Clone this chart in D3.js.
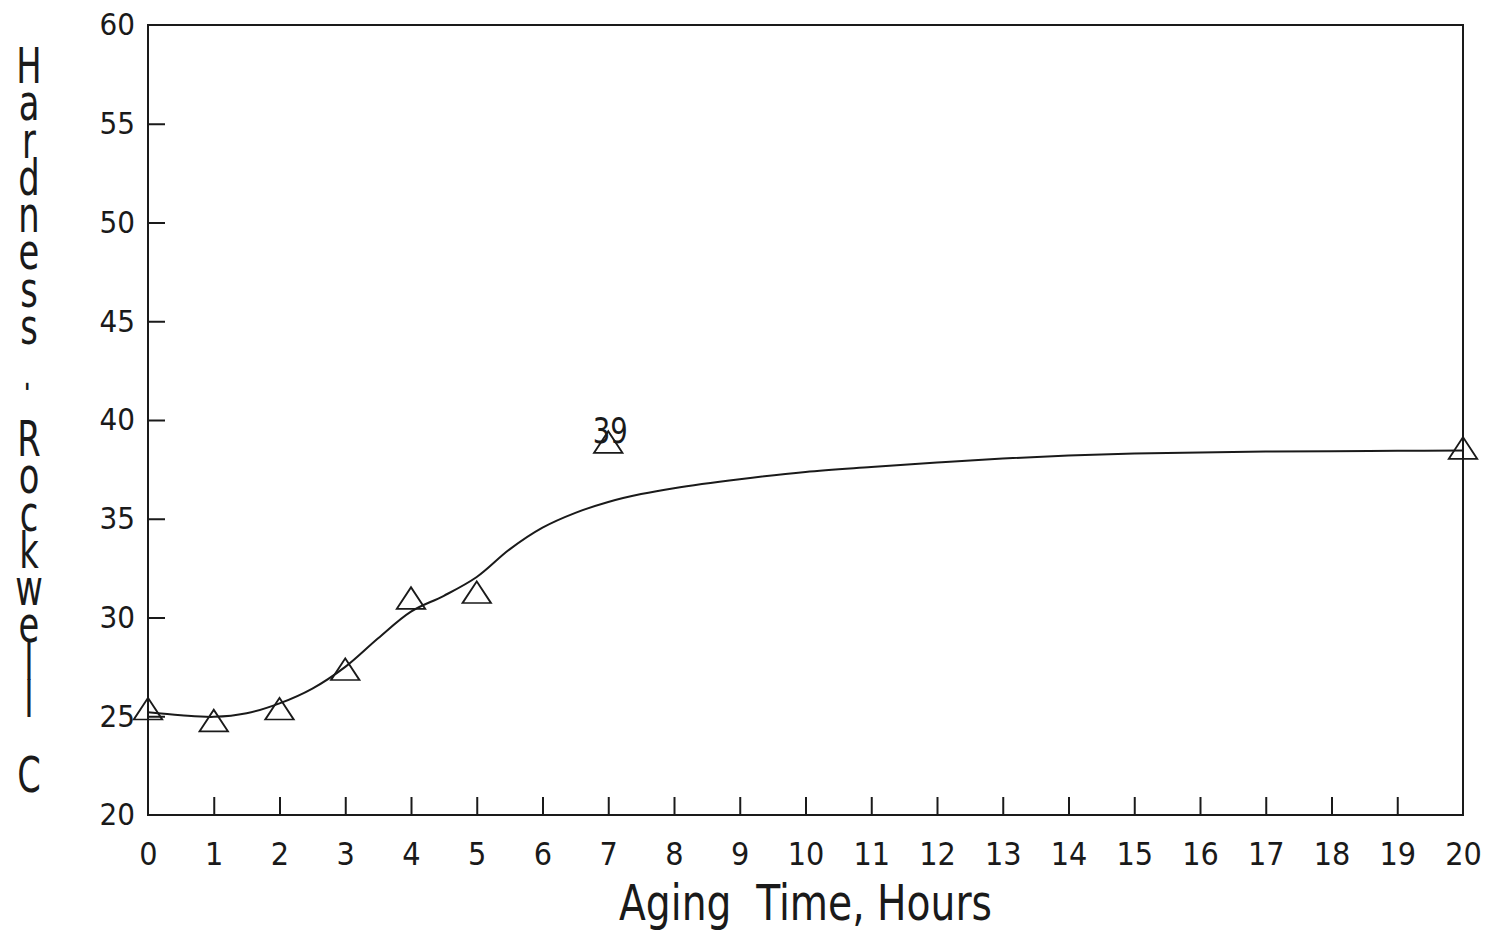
<!DOCTYPE html>
<html>
<head>
<meta charset="utf-8">
<script src="https://cdn.jsdelivr.net/npm/d3@7"></script>
<style>
  html, body { margin: 0; padding: 0; background: #ffffff; }
  svg { display: block; }
  text { font-family: "DejaVu Sans Condensed", "DejaVu Sans", sans-serif; font-stretch: condensed; fill: #1a1a1a; }
</style>
</head>
<body>
<svg id="chart" width="1490" height="938"></svg>
<script>
// ---- data ----
const xTickValues = [0,1,2,3,4,5,6,7,8,9,10,11,12,13,14,15,16,17,18,19,20];
const yTickValues = [20,25,30,35,40,45,50,55,60];
// measured hardness (triangles)
const measuredHours = [0, 1, 2, 3, 4, 5, 7, 20];
const measuredHardness = [25.2, 24.6, 25.2, 27.2, 30.8, 31.1, 38.7, 38.4];
// fitted curve
const curveHours = [0, 0.5, 1, 1.5, 2, 2.5, 3, 3.5, 4, 4.5, 5, 5.5, 6, 6.5, 7, 7.5, 8, 9, 10, 11, 12, 13, 14, 15, 16, 17, 18, 19, 20];
const curveHardness = [25.2, 25.05, 24.97, 25.15, 25.65, 26.4, 27.5, 28.95, 30.3, 31.1, 32.05, 33.45, 34.55, 35.3, 35.85, 36.25, 36.55, 37.0, 37.37, 37.62, 37.85, 38.05, 38.2, 38.3, 38.36, 38.4, 38.42, 38.44, 38.45];
const pointLabelHour = 7;
const pointLabelText = "39";
const xTitle = "Aging  Time, Hours";
const yTitle = "Hardness - Rockwell C";

(function () {
  const svg = d3.select("#chart");
  const mLeft = 148, mRight = 1463, mTop = 25, mBottom = 815;
  const x = d3.scaleLinear().domain([0, 20]).range([mLeft, mRight]);
  const y = d3.scaleLinear().domain([20, 60]).range([mBottom, mTop]);
  const ink = "#1a1a1a";

  // frame
  svg.append("rect")
    .attr("x", mLeft).attr("y", mTop)
    .attr("width", mRight - mLeft).attr("height", mBottom - mTop)
    .attr("fill", "none").attr("stroke", ink).attr("stroke-width", 2);

  // y axis (ticks inward)
  const yAxis = d3.axisLeft(y).tickValues(yTickValues).tickSize(-17).tickPadding(30)
    .tickFormat(d3.format("d"));
  const gy = svg.append("g").attr("transform", `translate(${mLeft},0)`).call(yAxis);
  gy.attr("font-family", null).attr("font-size", null);
  gy.select(".domain").remove();
  gy.selectAll(".tick line").attr("stroke", ink).attr("stroke-width", 2)
    .filter(d => d === 20 || d === 60).remove();
  gy.selectAll(".tick text").attr("font-size", 31).attr("fill", ink).attr("dx", 17);

  // x axis (ticks upward)
  const xAxis = d3.axisBottom(x).tickValues(xTickValues).tickSize(-18).tickPadding(27)
    .tickFormat(d3.format("d"));
  const gx = svg.append("g").attr("transform", `translate(0,${mBottom})`).call(xAxis);
  gx.attr("font-family", null).attr("font-size", null);
  gx.select(".domain").remove();
  gx.selectAll(".tick line").attr("stroke", ink).attr("stroke-width", 2)
    .filter(d => d === 0 || d === 20).remove();
  gx.selectAll(".tick text").attr("font-size", 32).attr("fill", ink);

  // x title
  svg.append("text")
    .attr("x", (mLeft + mRight) / 2).attr("y", 920)
    .attr("text-anchor", "middle")
    .attr("font-size", 50)
    .attr("textLength", 373).attr("lengthAdjust", "spacingAndGlyphs")
    .style("white-space", "pre")
    .text(xTitle);

  // y title: letters stacked vertically in one text element
  const chars = Array.from(yTitle);
  const sx = 0.75;
  const yt = svg.append("text")
    .attr("font-size", 50).attr("text-anchor", "middle")
    .attr("transform", `scale(${sx},1)`)
    .style("white-space", "pre");
  let k = 0;
  chars.forEach((c, i) => {
    const base = 83 + k * 37.3;
    const ts = yt.append("tspan").attr("x", 29 / sx).attr("y", base).text(c);
    if (c === "-") {
      ts.attr("fill-opacity", 0);   // drawn rotated below
      svg.append("text")
        .attr("font-size", 30).attr("text-anchor", "middle")
        .attr("dominant-baseline", "central")
        .attr("transform", `translate(29,${base + 5}) rotate(90)`)
        .attr("aria-hidden", "true")
        .text(c);
    }
    if (!(c === " " && chars[i + 1] === "-")) k++;
  });

  // fitted curve
  const line = d3.line()
    .x((d, i) => x(curveHours[i]))
    .y(d => y(d))
    .curve(d3.curveCatmullRom.alpha(0.5));
  svg.append("path")
    .attr("d", line(curveHardness))
    .attr("fill", "none").attr("stroke", ink).attr("stroke-width", 2);

  // triangles
  const tri = d3.symbol().type(d3.symbolTriangle).size(300);
  svg.selectAll("path.pt").data(measuredHours).enter().append("path")
    .attr("class", "pt")
    .attr("d", tri)
    .attr("transform", (d, i) => `translate(${x(d)},${y(measuredHardness[i])}) scale(1.08,0.95)`)
    .attr("fill", "none").attr("stroke", ink).attr("stroke-width", 1.8);

  // point label
  const li = measuredHours.indexOf(pointLabelHour);
  svg.append("text")
    .attr("x", x(pointLabelHour) + 2).attr("y", y(measuredHardness[li]) - 3)
    .attr("text-anchor", "middle")
    .attr("font-size", 36)
    .attr("textLength", 35).attr("lengthAdjust", "spacingAndGlyphs")
    .text(pointLabelText);
})();
</script>
</body>
</html>
